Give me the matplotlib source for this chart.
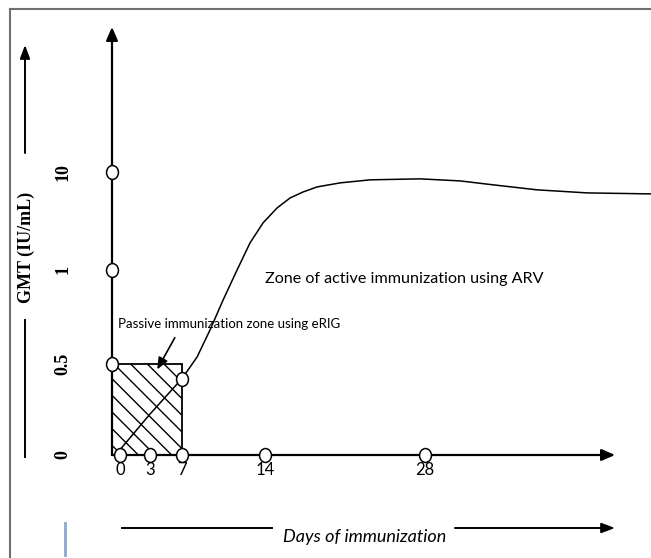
import numpy as np
import matplotlib.pyplot as plt
from matplotlib.patches import Rectangle
from matplotlib.lines import Line2D
from matplotlib.path import Path

days = [0, 3, 7, 14, 28]
gmt_ticks = [0, 0.5, 1, 10]
gmt_tick_labels = ['0', '0.5', '1', '10']
gmt_marks = [0.5, 1, 10]
passive_end_day = 7
passive_gmt = 0.5
day7_gmt = 0.42

curve_days = [-0.2, 3.0, 7.0, 8.27, 9.36, 10.46, 11.64, 12.73, 13.83, 15.05, 16.19,
              17.33, 18.55, 20.56, 23.19, 27.56, 31.06, 33.95, 37.80, 42.17, 47.69]
curve_gmt = [0.016, 0.225, 0.42, 0.537, 0.681, 0.840, 1.0, 3.48, 5.32, 6.69, 7.61,
             8.16, 8.62, 8.99, 9.27, 9.36, 9.17, 8.81, 8.35, 8.07, 7.98]

# the hand drawn axes are not evenly spaced: knots of the schematic scale
X_KNOTS = ([0, 3, 7, 14, 28], [120, 150, 182, 265, 425])
Y_KNOTS = ([0, 0.5, 1, 10], [103, 194, 288, 386])

W, H = 651, 558


def piecewise(v, xs, ys):
    v = np.asarray(v, dtype=float)
    lo = ys[0] + (v - xs[0]) * (ys[1] - ys[0]) / (xs[1] - xs[0])
    hi = ys[-1] + (v - xs[-1]) * (ys[-1] - ys[-2]) / (xs[-1] - xs[-2])
    return np.where(v < xs[0], lo, np.where(v > xs[-1], hi, np.interp(v, xs, ys)))


def px(x, y):
    # top-left pixel position -> figure fraction
    return (x / W, 1 - y / H)


fig = plt.figure(figsize=(W / 100, H / 100), dpi=100)
ax = fig.add_axes([112 / W, 103 / H, (615 - 112) / W, (531 - 103) / H])
ax.set_xscale('function', functions=(lambda v: piecewise(v, *X_KNOTS),
                                     lambda v: piecewise(v, X_KNOTS[1], X_KNOTS[0])))
ax.set_yscale('function', functions=(lambda v: piecewise(v, *Y_KNOTS),
                                     lambda v: piecewise(v, Y_KNOTS[1], Y_KNOTS[0])))
ax.set_xlim(-0.8, 44.6)
ax.set_ylim(0, 23.3)
for s in ax.spines.values():
    s.set_visible(False)

arrow_kw = dict(arrowstyle='-|>,head_length=0.8,head_width=0.35', color='k',
                lw=1.6, shrinkA=0, shrinkB=0)
ax.annotate('', xy=(0, 1), xytext=(0, 0), xycoords='axes fraction',
            arrowprops=arrow_kw, annotation_clip=False)
ax.annotate('', xy=(1, 0), xytext=(0, 0), xycoords='axes fraction',
            arrowprops=arrow_kw, annotation_clip=False)

# ticks
ax.set_xticks(days, labels=[str(d) for d in days], fontfamily='Lato', fontsize=12)
ax.tick_params(axis='x', length=0, pad=5)
ax.set_yticks(gmt_ticks, labels=gmt_tick_labels, rotation=90, va='center',
              fontfamily='Liberation Serif', fontweight='bold', fontsize=13)
ax.tick_params(axis='y', length=0, pad=29)

# passive immunization box
xl = ax.get_xlim()[0]
ax.add_patch(Rectangle((xl, 0), passive_end_day - xl, passive_gmt, fill=False,
                       hatch='\\\\', ec='k', lw=1.3, zorder=2))

ax.plot(curve_days, curve_gmt, color='k', lw=1.1, clip_on=False, zorder=3)

circ = Path.unit_circle()
ellipse = Path(circ.vertices * [1, 1.17], circ.codes)
mk = dict(marker=ellipse, ms=10, mfc='white', mec='k', mew=1.1, ls='none',
          clip_on=False, zorder=5)
ax.plot(np.zeros(len(gmt_marks)), gmt_marks, transform=ax.get_yaxis_transform(), **mk)
ax.plot(days, np.zeros(len(days)), **mk)
ax.plot([passive_end_day], [day7_gmt], **mk)

ax.text(14, 0.95, 'Zone of active immunization using ARV', fontfamily='Lato',
        fontsize=11.6, va='center', ha='left')
ax.text(-0.2, 0.71, 'Passive immunization zone using eRIG', fontfamily='Lato',
        fontsize=9.5, va='center', ha='left')
ax.annotate('', xy=(3.9, 0.47), xytext=(6.1, 0.64),
            arrowprops=dict(arrowstyle='-|>,head_length=0.7,head_width=0.3',
                            color='k', lw=1.2, shrinkA=0, shrinkB=0))

# frame and side decorations
fig.add_artist(Line2D([10 / W, 10 / W], [0, 1 - 9 / H], color='#707070', lw=1.5))
fig.add_artist(Line2D([10 / W, 1], [1 - 9 / H, 1 - 9 / H], color='#707070', lw=1.5))

fig.text(*px(26, 247), 'GMT (IU/mL)', rotation=90, ha='center', va='center',
         fontfamily='Liberation Serif', fontweight='bold', fontsize=13)
side_kw = dict(arrowstyle='-|>,head_length=0.8,head_width=0.3', color='k', lw=1.4,
               shrinkA=0, shrinkB=0)
ax.annotate('', xy=px(25, 45), xytext=px(25, 153), xycoords='figure fraction',
            arrowprops=side_kw, annotation_clip=False)
fig.add_artist(Line2D([25 / W, 25 / W], [1 - 320 / H, 1 - 457 / H], color='k', lw=1.4))

fig.add_artist(Line2D([122 / W, 272 / W], [1 - 528 / H, 1 - 528 / H], color='k', lw=1.4))
fig.text(*px(283, 537), 'Days of immunization', ha='left', va='center',
         fontfamily='Lato', fontstyle='italic', fontsize=13)
ax.annotate('', xy=px(615, 528), xytext=px(455, 528), xycoords='figure fraction',
            arrowprops=side_kw, annotation_clip=False)
fig.add_artist(Line2D([65 / W, 65 / W], [1 - 523 / H, 1 - 555 / H], color='#8ba7d3', lw=2))

fig.savefig('out.png', dpi=100)
